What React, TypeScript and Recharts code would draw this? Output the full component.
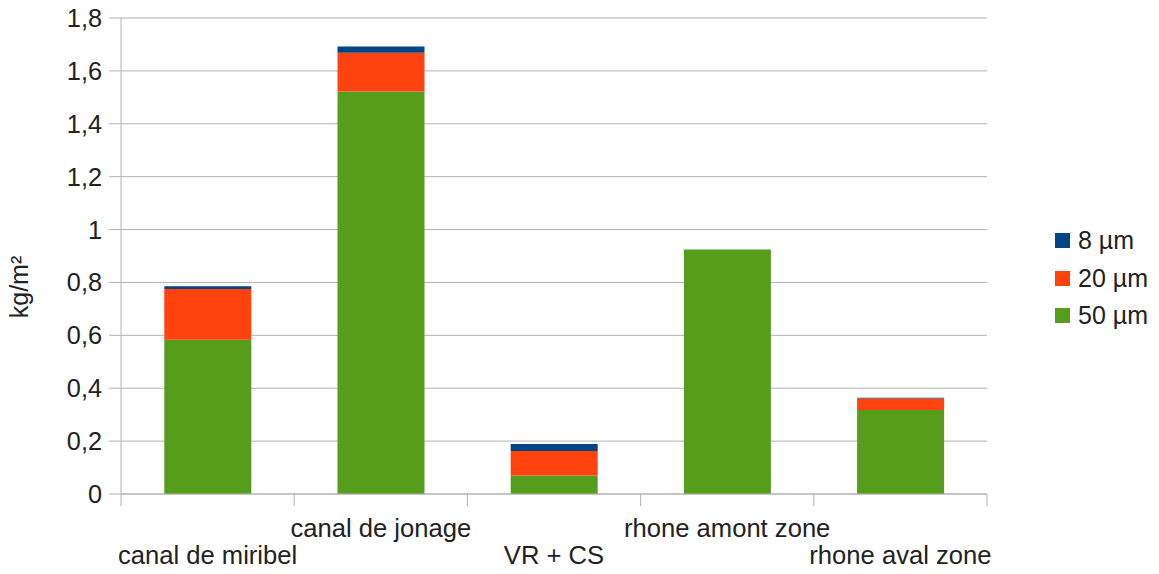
import { Bar, BarChart, CartesianGrid, Legend, XAxis, YAxis } from "recharts"

const categories = [
  "canal de miribel",
  "canal de jonage",
  "VR + CS",
  "rhone amont zone",
  "rhone aval zone",
]
const um50 = [0.583, 1.522, 0.07, 0.925, 0.318]
const um20 = [0.192, 0.147, 0.093, 0, 0.043]
const um8 = [0.011, 0.023, 0.026, 0, 0.003]
const yTicks = [0, 0.2, 0.4, 0.6, 0.8, 1, 1.2, 1.4, 1.6, 1.8]

const series = [
  { key: "um50", name: "50 µm", color: "#579d1c" },
  { key: "um20", name: "20 µm", color: "#ff420e" },
  { key: "um8", name: "8 µm", color: "#004586" },
]

const data = categories.map((name, i) => ({
  name,
  um50: um50[i],
  um20: um20[i],
  um8: um8[i],
}))

const CHART_W = 1159
const CHART_H = 574
const Y_W = 121
const RIGHT = 172
const BAND = (CHART_W - Y_W - RIGHT) / categories.length
const AXIS = "#b3b3b3"
const TEXT = "#222"
const FONT = "'Liberation Sans', Arial, sans-serif"

function CategoryTick(props: any) {
  const { x, y, payload, index } = props
  const half = BAND / 2
  const lower = index % 2 === 0
  return (
    <g>
      <line x1={x - half} y1={y} x2={x - half} y2={y + 12} stroke={AXIS} />
      {index === categories.length - 1 && (
        <line x1={x + half} y1={y} x2={x + half} y2={y + 12} stroke={AXIS} />
      )}
      <text
        x={x}
        y={y + (lower ? 70 : 43)}
        textAnchor="middle"
        fill={TEXT}
        fontSize={25.6}
        fontFamily={FONT}
      >
        {payload.value}
      </text>
    </g>
  )
}

function LegendBox() {
  return (
    <div style={{ fontFamily: FONT, fontSize: 25, color: TEXT }}>
      {[...series].reverse().map((s) => (
        <div
          key={s.key}
          style={{ display: "flex", alignItems: "center", height: 37.5 }}
        >
          <span
            style={{
              display: "inline-block",
              width: 15,
              height: 15,
              background: s.color,
              marginRight: 8,
            }}
          />
          <span>{s.name}</span>
        </div>
      ))}
    </div>
  )
}

export default function App() {
  return (
    <div style={{ position: "absolute", top: 0, left: 0, background: "#fff" }}>
      <BarChart
        width={CHART_W}
        height={CHART_H}
        data={data}
        margin={{ top: 18, right: RIGHT, bottom: 0, left: 0 }}
        barCategoryGap="25%"
      >
        <CartesianGrid stroke={AXIS} vertical={false} />
        <XAxis
          dataKey="name"
          interval={0}
          height={80}
          tickSize={0}
          tickMargin={0}
          tickLine={false}
          axisLine={{ stroke: AXIS }}
          tick={<CategoryTick />}
        />
        <YAxis
          width={Y_W}
          domain={[0, 1.8]}
          ticks={yTicks}
          tickSize={12}
          tickMargin={7}
          axisLine={{ stroke: AXIS }}
          tickLine={{ stroke: AXIS }}
          tick={{ fill: TEXT, fontSize: 25.3, fontFamily: FONT }}
          tickFormatter={(v: number) => String(v).replace(".", ",")}
          label={{
            content: ({ viewBox }: any) => (
              <text
                x={28}
                y={viewBox.y + viewBox.height / 2 + 31}
                transform={`rotate(-90, 28, ${viewBox.y + viewBox.height / 2 + 31})`}
                textAnchor="middle"
                fill={TEXT}
                fontSize={25}
                fontFamily={FONT}
              >
                kg/m²
              </text>
            ),
          }}
        />
        <Legend
          layout="vertical"
          align="center"
          verticalAlign="middle"
          content={() => <LegendBox />}
          wrapperStyle={{ left: 1055, top: 222, width: 104 }}
        />
        {series.map((s) => (
          <Bar
            key={s.key}
            dataKey={s.key}
            name={s.name}
            stackId="a"
            fill={s.color}
            isAnimationActive={false}
          />
        ))}
      </BarChart>
    </div>
  )
}
